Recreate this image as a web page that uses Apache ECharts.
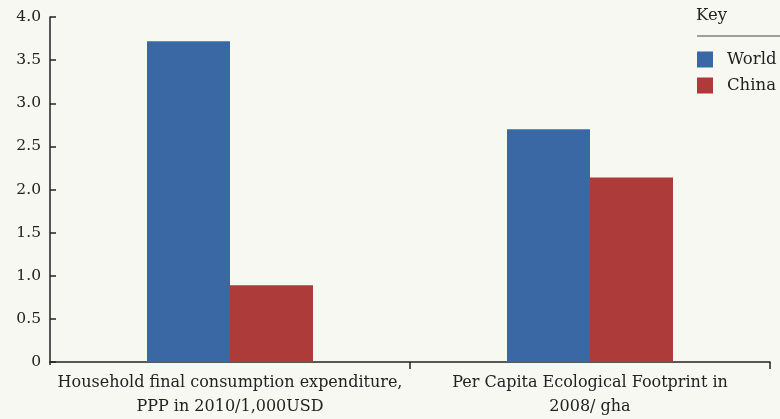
<!DOCTYPE html>
<html>
<head>
<meta charset="utf-8">
<script src="https://cdn.jsdelivr.net/npm/echarts@6/dist/echarts.min.js"></script>
<style>
html,body{margin:0;padding:0;background:#f8f8f3;}
#c{width:780px;height:419px;}
</style>
</head>
<body>
<div id="c"></div>
<script>
const categories = ['Household final consumption expenditure,\nPPP in 2010/1,000USD', 'Per Capita Ecological Footprint in\n2008/ gha'];
const seriesNames = ['World', 'China'];
const worldValues = [3.72, 2.70];
const chinaValues = [0.89, 2.14];
const yTicks = [0, 0.5, 1.0, 1.5, 2.0, 2.5, 3.0, 3.5, 4.0];

const FONT = 'DejaVu Serif';
const chart = echarts.init(document.getElementById('c'));
chart.setOption({
  backgroundColor: '#f8f8f3',
  animation: false,
  textStyle: { fontFamily: FONT, color: '#222' },
  grid: { left: 50, right: 10, top: 17, bottom: 55, containLabel: false },
  legend: {
    orient: 'vertical',
    left: 697, top: 51, padding: 0,
    itemWidth: 16, itemHeight: 16, itemGap: 9,
    icon: 'rect',
    textStyle: { fontFamily: FONT, fontSize: 16.5, color: '#222', padding: [0,0,0,9] },
    data: seriesNames
  },
  graphic: [
    { type: 'text', left: 696, top: 7, style: { text: 'Key', font: '16.5px "DejaVu Serif"', fill: '#222' } },
    { type: 'line', shape: { x1: 697, y1: 36, x2: 780, y2: 36 }, style: { stroke: '#444', lineWidth: 1.2 } },
    { type: 'rect', shape: { x: 44, y: 365, width: 10, height: 9 }, style: { fill: '#f8f8f3' }, z: 100 }
  ],
  xAxis: {
    type: 'category',
    data: categories,
    axisLine: { lineStyle: { color: '#222', width: 1.5 } },
    axisTick: { show: true, length: 7, alignWithLabel: false, lineStyle: { color: '#222', width: 1.5 } },
    axisLabel: { fontFamily: FONT, fontSize: 16, color: '#222', margin: 9, lineHeight: 24, interval: 0 }
  },
  yAxis: {
    type: 'value',
    min: 0, max: 4, interval: 0.5,
    axisLine: { show: true, lineStyle: { color: '#222', width: 1.5 } },
    axisTick: { show: true, inside: true, length: 6, lineStyle: { color: '#222', width: 1.5 } },
    splitLine: { show: false },
    axisLabel: {
      fontFamily: FONT, fontSize: 15.5, color: '#222', margin: 9,
      formatter: v => { const t = yTicks.find(x => Math.abs(x - v) < 1e-9); return t === 0 ? '0' : (t !== undefined ? t.toFixed(1) : ''); }
    }
  },
  series: [
    { name: seriesNames[0], type: 'bar', data: worldValues, barWidth: 83, barGap: '0%', itemStyle: { color: '#3a68a4' } },
    { name: seriesNames[1], type: 'bar', data: chinaValues, barWidth: 83, barGap: '0%', itemStyle: { color: '#ac3b39' } }
  ]
});
</script>
</body>
</html>
